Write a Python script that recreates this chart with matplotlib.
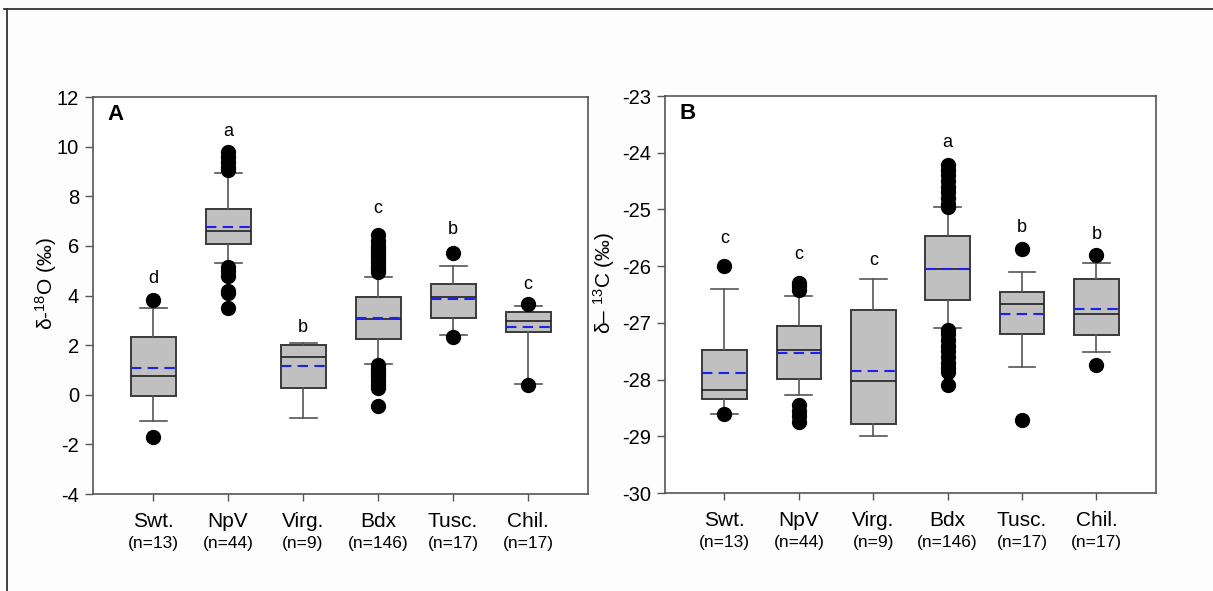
import matplotlib
matplotlib.use("Agg")
import matplotlib.pyplot as plt
from matplotlib.lines import Line2D

plt.rcParams["font.family"] = ["Liberation Sans", "DejaVu Sans"]
plt.rcParams["axes.unicode_minus"] = False
plt.rcParams["mathtext.fontset"] = "custom"
plt.rcParams["mathtext.rm"] = "Liberation Sans"
plt.rcParams["mathtext.it"] = "Liberation Sans:italic"
plt.rcParams["mathtext.bf"] = "Liberation Sans:bold"

categories = ["Swt.", "NpV", "Virg.", "Bdx", "Tusc.", "Chil."]
n_counts = [13, 44, 9, 146, 17, 17]

# panel A: delta 18O
o18_q1 = [-0.04, 6.07, 0.27, 2.24, 3.09, 2.54]
o18_med = [0.75, 6.60, 1.53, 3.07, 3.95, 2.99]
o18_q3 = [2.34, 7.48, 2.01, 3.96, 4.47, 3.34]
o18_mean = [1.07, 6.75, 1.15, 3.09, 3.88, 2.75]
o18_whislo = [-1.07, 5.30, -0.95, 1.25, 2.42, 0.44]
o18_whishi = [3.50, 8.95, 2.08, 4.74, 5.21, 3.57]
o18_fliers = [
    [3.83, -1.72],
    [9.80, 9.60, 9.40, 9.20, 9.06, 5.15, 5.00, 4.78, 4.20, 4.10, 3.50],
    [],
    [6.42, 6.20, 6.00, 5.90, 5.80, 5.70, 5.60, 5.50, 5.35, 5.20, 5.05, 4.94,
     1.20, 1.05, 0.90, 0.80, 0.70, 0.55, 0.40, 0.27, -0.47],
    [5.72, 2.32],
    [3.66, 0.38],
]
o18_letters = ["d", "a", "b", "c", "b", "c"]
o18_letter_y = [4.67, 10.60, 2.72, 7.49, 6.68, 4.43]

# panel B: delta 13C
c13_q1 = [-28.35, -27.99, -28.79, -26.59, -27.19, -27.22]
c13_med = [-28.18, -27.47, -28.02, -26.05, -26.67, -26.84]
c13_q3 = [-27.48, -27.05, -26.78, -25.47, -26.46, -26.22]
c13_mean = [-27.89, -27.53, -27.84, -26.05, -26.85, -26.75]
c13_whislo = [-28.60, -28.28, -29.00, -27.09, -27.78, -27.52]
c13_whishi = [-26.40, -26.52, -26.23, -24.96, -26.11, -25.95]
c13_fliers = [
    [-25.99, -28.61],
    [-26.29, -26.35, -26.42, -28.45, -28.55, -28.65, -28.75],
    [],
    [-24.22, -24.30, -24.40, -24.50, -24.60, -24.70, -24.80, -24.90, -24.95,
     -27.13, -27.20, -27.30, -27.40, -27.50, -27.60, -27.70, -27.80, -27.86, -28.10],
    [-25.69, -28.71],
    [-25.80, -27.75],
]
c13_letters = ["c", "c", "c", "a", "b", "b"]
c13_letter_y = [-25.51, -25.79, -25.90, -23.82, -25.31, -25.45]


def draw_panel(ax, q1, med, q3, mean, lo, hi, fliers, letters, letter_y,
               ylim, yticks, ylabel, tag):
    stats = []
    for i in range(len(categories)):
        stats.append({"q1": q1[i], "med": med[i], "q3": q3[i], "mean": mean[i],
                      "whislo": lo[i], "whishi": hi[i], "fliers": fliers[i]})
    pos = list(range(1, len(categories) + 1))
    ax.bxp(stats, positions=pos, widths=0.6, capwidths=0.36,
           patch_artist=True, showmeans=True, meanline=True,
           boxprops=dict(facecolor="#c0c0c0", edgecolor="#3a3a3a", linewidth=1.4),
           whiskerprops=dict(color="#555555", linewidth=1.2),
           capprops=dict(color="#555555", linewidth=1.2),
           medianprops=dict(color="#202020", linewidth=1.2),
           meanprops=dict(color="#2020ee", linewidth=1.5, linestyle=(0, (5, 3))),
           flierprops=dict(marker="o", markerfacecolor="black",
                           markeredgecolor="black", markersize=10))
    for x, lab, y in zip(pos, letters, letter_y):
        ax.text(x, y, lab, ha="center", va="center", fontsize=13)
    ax.set_xlim(0.2, 6.8)
    ax.set_ylim(*ylim)
    ax.set_yticks(yticks)
    ax.set_xticks(pos)
    ax.set_xticklabels(categories, fontsize=15)
    for x, n in zip(pos, n_counts):
        ax.annotate(f"(n={n})", xy=(x, 0), xycoords=("data", "axes fraction"),
                    xytext=(0, -49), textcoords="offset pixels",
                    ha="center", va="center", fontsize=12.5)
    ax.tick_params(axis="y", labelsize=14.5, length=6, width=1, color="#555555",
                   direction="out", pad=4)
    ax.tick_params(axis="x", length=5, width=1, color="#555555", pad=8)
    for side in ax.spines:
        ax.spines[side].set_color("#555555")
        ax.spines[side].set_linewidth(1.2)
    ax.set_ylabel(ylabel, fontsize=15)
    ax.text(0.03, 0.955, tag, transform=ax.transAxes, fontsize=16,
            fontweight="bold", ha="left", va="center")


fig = plt.figure(figsize=(12.13, 5.91), dpi=100)
fig.patch.set_facecolor("#fdfdfd")
ax_a = fig.add_axes([0.0767, 0.1641, 0.4081, 0.6717])
ax_b = fig.add_axes([0.5482, 0.1658, 0.4048, 0.6717])

draw_panel(ax_a, o18_q1, o18_med, o18_q3, o18_mean, o18_whislo, o18_whishi,
           o18_fliers, o18_letters, o18_letter_y, (-4, 12),
           list(range(-4, 13, 2)), "δ-$^{18}$O (‰)", "A")
draw_panel(ax_b, c13_q1, c13_med, c13_q3, c13_mean, c13_whislo, c13_whishi,
           c13_fliers, c13_letters, c13_letter_y, (-30, -23),
           list(range(-30, -22)), "δ– $^{13}$C (‰)", "B")
ax_a.yaxis.set_label_coords(-0.068, 0.53)
ax_b.yaxis.set_label_coords(-0.097, 0.53)

# outer frame lines of the figure panel
fig.add_artist(Line2D([0.003, 1.0], [0.985, 0.985], color="#333333", lw=1.3))
fig.add_artist(Line2D([0.006, 0.006], [0.0, 0.985], color="#333333", lw=1.3))

fig.savefig("out.png", dpi=100, facecolor=fig.get_facecolor())
